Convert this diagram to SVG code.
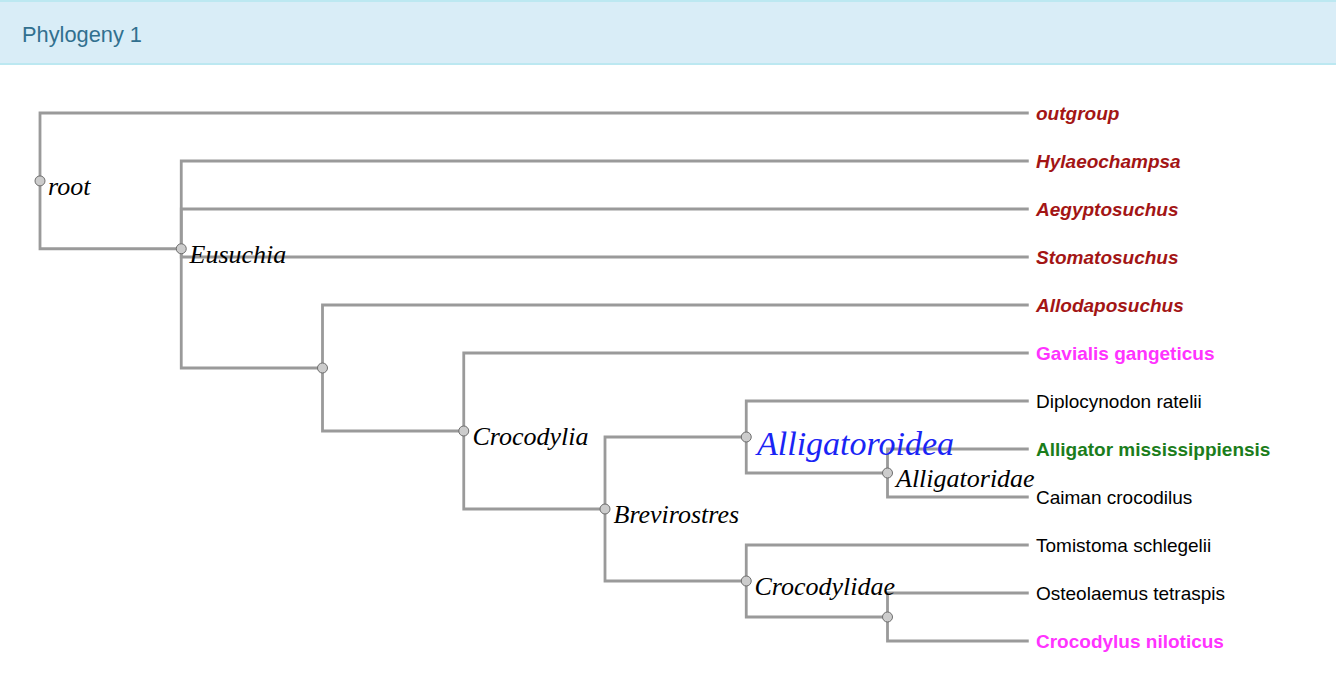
<svg xmlns="http://www.w3.org/2000/svg" width="1336" height="696" viewBox="0 0 1336 696">
<style>
.br{fill:none;stroke:#9a9a9a;stroke-width:2.8}
.nd{fill:#cccccc;stroke:#6e6e6e;stroke-width:1}
.il{font-family:"Liberation Serif","Times New Roman",serif;font-style:italic;font-size:26px;fill:#000}
.lf{font-family:"Liberation Sans",Arial,sans-serif;font-size:19px}
.fos{font-weight:bold;font-style:italic;fill:#a31515}
.mag{font-weight:bold;fill:#ff33ff}
.grn{font-weight:bold;fill:#1b7d1b}
.blk{fill:#000}
</style>
<g id="header">
<rect x="0" y="0" width="1336" height="65" fill="#d9edf7"/>
<line x1="0" y1="1" x2="1336" y2="1" stroke="#bce8f1" stroke-width="2"/>
<line x1="0" y1="64" x2="1336" y2="64" stroke="#bce8f1" stroke-width="2"/>
<text x="22" y="42" font-family="Liberation Sans,Arial,sans-serif" font-size="21.8" fill="#31708f">Phylogeny 1</text>
</g>
<g id="connectors">
<path class="br" d="M40,180.9V113H1028.75"/>
<path class="br" d="M40,180.9V248.75H181.25"/>
<path class="br" d="M181.25,248.75V161H1028.75"/>
<path class="br" d="M181.25,248.75V209H1028.75"/>
<path class="br" d="M181.25,248.75V257H1028.75"/>
<path class="br" d="M181.25,248.75V368H322.5"/>
<path class="br" d="M322.5,368V305H1028.75"/>
<path class="br" d="M322.5,368V431H463.75"/>
<path class="br" d="M463.75,431V353H1028.75"/>
<path class="br" d="M463.75,431V509H605"/>
<path class="br" d="M605,509V437H746.25"/>
<path class="br" d="M605,509V581H746.25"/>
<path class="br" d="M746.25,437V401H1028.75"/>
<path class="br" d="M746.25,437V473H887.5"/>
<path class="br" d="M887.5,473V449H1028.75"/>
<path class="br" d="M887.5,473V497H1028.75"/>
<path class="br" d="M746.25,581V545H1028.75"/>
<path class="br" d="M746.25,581V617H887.5"/>
<path class="br" d="M887.5,617V593H1028.75"/>
<path class="br" d="M887.5,617V641H1028.75"/>
</g>
<g id="node-root"><circle class="nd" cx="40" cy="180.9" r="5"/><text class="il" x="48" y="194.5">root</text></g>
<g id="node-eusuchia"><circle class="nd" cx="181.25" cy="248.75" r="5"/><text class="il" x="189.5" y="262.5">Eusuchia</text></g>
<g id="node-n1"><circle class="nd" cx="322.5" cy="368" r="5"/></g>
<g id="node-crocodylia"><circle class="nd" cx="463.75" cy="431" r="5"/><text class="il" x="472.5" y="445">Crocodylia</text></g>
<g id="node-brevirostres"><circle class="nd" cx="605" cy="509" r="5"/><text class="il" x="613.5" y="523">Brevirostres</text></g>
<g id="node-alligatoroidea"><circle class="nd" cx="746.25" cy="437" r="5"/><text class="il" x="757" y="455" style="font-size:34px;fill:#1a24f5">Alligatoroidea</text></g>
<g id="node-alligatoridae"><circle class="nd" cx="887.5" cy="473" r="5"/><text class="il" x="896" y="486.5">Alligatoridae</text></g>
<g id="node-crocodylidae"><circle class="nd" cx="746.25" cy="581" r="5"/><text class="il" x="754.5" y="595">Crocodylidae</text></g>
<g id="node-n2"><circle class="nd" cx="887.5" cy="617" r="5"/></g>
<g id="leaf-outgroup"><text class="lf fos" x="1036" y="119.5">outgroup</text></g>
<g id="leaf-hylaeochampsa"><text class="lf fos" x="1036" y="167.5">Hylaeochampsa</text></g>
<g id="leaf-aegyptosuchus"><text class="lf fos" x="1036" y="215.5">Aegyptosuchus</text></g>
<g id="leaf-stomatosuchus"><text class="lf fos" x="1036" y="263.5">Stomatosuchus</text></g>
<g id="leaf-allodaposuchus"><text class="lf fos" x="1036" y="311.5">Allodaposuchus</text></g>
<g id="leaf-gavialis"><text class="lf mag" x="1036" y="359.5">Gavialis gangeticus</text></g>
<g id="leaf-diplocynodon"><text class="lf blk" x="1036" y="407.5">Diplocynodon ratelii</text></g>
<g id="leaf-alligator"><text class="lf grn" x="1036" y="455.5">Alligator mississippiensis</text></g>
<g id="leaf-caiman"><text class="lf blk" x="1036" y="503.5">Caiman crocodilus</text></g>
<g id="leaf-tomistoma"><text class="lf blk" x="1036" y="551.5">Tomistoma schlegelii</text></g>
<g id="leaf-osteolaemus"><text class="lf blk" x="1036" y="599.5">Osteolaemus tetraspis</text></g>
<g id="leaf-crocodylus"><text class="lf mag" x="1036" y="647.5">Crocodylus niloticus</text></g>
</svg>
